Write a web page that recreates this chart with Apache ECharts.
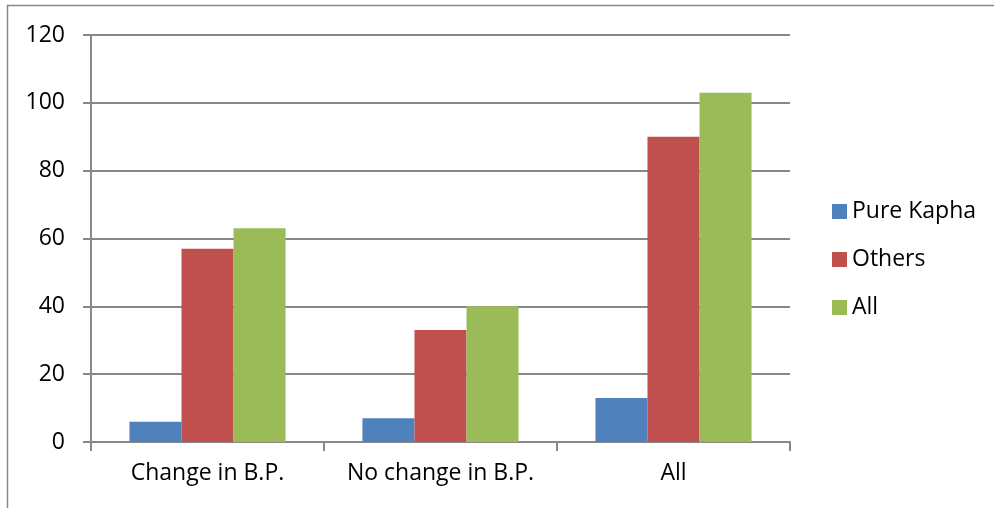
<!DOCTYPE html>
<html>
<head>
<meta charset="utf-8">
<script src="https://cdn.jsdelivr.net/npm/echarts@6/dist/echarts.min.js"></script>
<style>
  html, body { margin: 0; padding: 0; background: #fff; }
  #chart { width: 994px; height: 508px; }
</style>
</head>
<body>
<div id="chart"></div>
<script>
// Categories and series values
const categories = ['Change in B.P.', 'No change in B.P.', 'All'];
const pureKapha = [6, 7, 13];
const others = [57, 33, 90];
const allGroup = [63, 40, 103];
const seriesNames = ['Pure Kapha', 'Others', 'All'];
const yTicks = { min: 0, max: 120, interval: 20 };

const FONT = '"Open Sans"';
const FS = 23;
const chart = echarts.init(document.getElementById('chart'), null, { renderer: 'canvas' });

const lineStyle = { color: '#888888', width: 2 };

chart.setOption({
  animation: false,
  backgroundColor: '#ffffff',
  color: ['#4F81BD', '#C0504D', '#9BBB59'],
  graphic: [{
    type: 'rect',
    shape: { x: 7.5, y: 5.5, width: 1100, height: 600 },
    style: { fill: 'none', stroke: '#888888', lineWidth: 1.5 },
    silent: true
  }],
  grid: { left: 91, right: 204, top: 35, bottom: 66, containLabel: false },
  legend: {
    orient: 'vertical',
    left: 827,
    top: 195,
    itemWidth: 15,
    itemHeight: 15,
    itemGap: 25,
    icon: 'rect',
    textStyle: { fontFamily: FONT, fontSize: FS, color: '#000', padding: [0, 0, 0, 0] },
    data: seriesNames
  },
  xAxis: {
    type: 'category',
    data: categories,
    axisLine: { lineStyle: lineStyle },
    axisTick: { show: true, length: 9, interval: 0, lineStyle: lineStyle, alignWithLabel: false },
    axisLabel: { interval: 0, hideOverlap: false, fontFamily: FONT, fontSize: FS, color: '#000', margin: 20 }
  },
  yAxis: {
    type: 'value',
    min: yTicks.min,
    max: yTicks.max,
    interval: yTicks.interval,
    axisLine: { show: true, lineStyle: lineStyle },
    axisTick: { show: true, length: 8, lineStyle: lineStyle },
    splitLine: { lineStyle: lineStyle },
    axisLabel: { fontFamily: FONT, fontSize: FS, color: '#000', margin: 26 }
  },
  series: [
    { name: seriesNames[0], type: 'bar', data: pureKapha, barGap: '0%', barCategoryGap: '33%' },
    { name: seriesNames[1], type: 'bar', data: others, barGap: '0%', barCategoryGap: '33%' },
    { name: seriesNames[2], type: 'bar', data: allGroup, barGap: '0%', barCategoryGap: '33%' }
  ]
});
</script>
</body>
</html>
